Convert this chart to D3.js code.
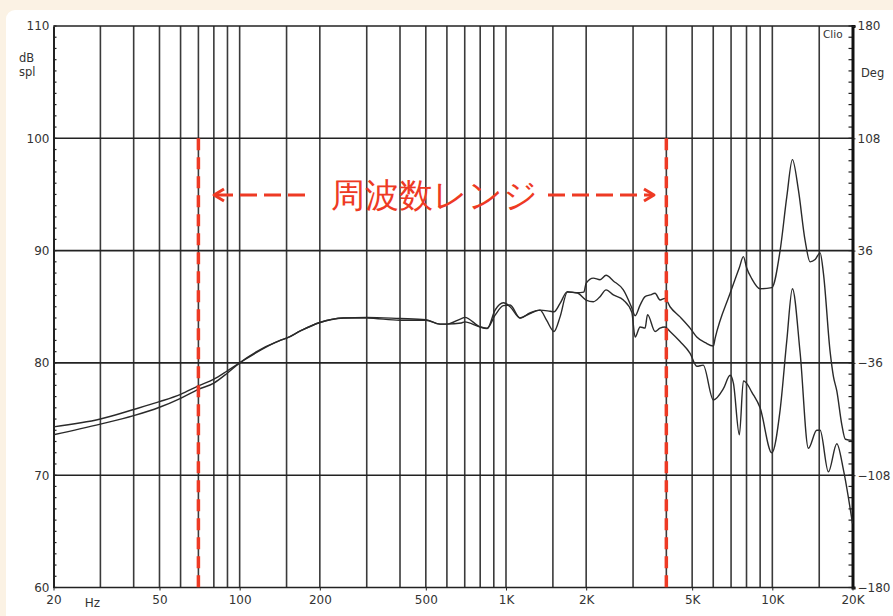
<!DOCTYPE html>
<html>
<head>
<meta charset="utf-8">
<script src="https://cdn.jsdelivr.net/npm/d3@7"></script>
<style>
  html, body { margin: 0; padding: 0; background: #fbf2e4; }
  svg { display: block; }
  text { font-family: "DejaVu Sans", Verdana, sans-serif; }
</style>
</head>
<body>
<svg id="chart" width="893" height="616"></svg>
<script>
// ---------- data ----------
const curveAFreq = [20,30,40,50,60,70,80,90,100,142,150,169,200,245,300,400,500,565,600,680,700,800,850,910,978,1036,1129,1231,1342,1464,1515,1596,1700,1844,1960,2000,2128,2255,2376,2530,2758,2968,3053,3188,3328,3476,3628,3788,3956,4130,4504,4912,5204,5600,6008,6100,6942,7522,7786,8000,8372,8996,9954,10696,11334,11896,12528,13274,13860,14472,15114,15552,16480,16956,17462,18232,18800,20000];
const curveADb   = [74.3,75.0,75.85,76.55,77.2,77.95,78.55,79.3,80.0,82.0,82.2,82.85,83.6,84.0,84.05,83.95,83.85,83.45,83.45,83.95,84.05,83.2,83.05,84.7,85.35,85.0,84.0,84.45,84.7,84.6,84.55,85.3,86.35,86.25,86.3,87.1,87.55,87.4,87.8,87.3,86.5,84.9,84.2,85.15,85.9,86.05,86.2,85.6,85.75,85.0,84.1,83.1,82.3,81.8,81.5,82.2,86.2,88.5,89.46,88.5,87.5,86.6,86.7,90.0,94.8,98.1,95.4,90.9,89.0,89.2,89.8,88.0,81.0,78.8,77.5,74.5,73.2,73.1];

const curveBFreq = [20,30,40,50,60,70,80,90,100,142,150,169,200,245,300,400,500,565,600,680,700,800,850,910,978,1036,1129,1231,1342,1420,1515,1596,1700,1844,1998,2128,2255,2376,2530,2758,2968,3053,3188,3328,3400,3628,3788,3956,4130,4504,4912,5204,5500,6008,6550,6942,7142,7522,7786,8000,8372,8996,9954,10696,11334,11896,12716,13660,14688,15114,16238,17462,18486,20000];
const curveBDb   = [73.6,74.55,75.3,76.05,76.85,77.65,78.2,79.1,80.0,82.0,82.2,82.85,83.6,84.0,84.0,83.8,83.8,83.45,83.45,83.55,83.65,83.2,83.1,84.25,85.1,85.15,84.0,84.4,84.7,83.8,82.8,84.1,86.3,86.25,85.6,85.45,85.9,86.5,86.05,85.6,84.5,82.3,83.2,83.1,84.3,82.8,83.1,83.2,82.8,81.9,80.85,79.7,79.8,76.7,77.7,78.9,78.2,73.6,78.4,78.2,77.4,76.0,72.0,75.8,82.0,86.6,80.9,72.4,74.0,74.0,70.3,72.8,70.5,65.7];

const freqGrid = [30,40,50,60,70,80,90,100,150,200,300,400,500,600,700,800,900,1000,1500,2000,3000,4000,5000,6000,7000,8000,9000,10000,15000];
const dbGrid = [70,80,90,100];
const xTickValues = [20,50,100,200,500,1000,2000,5000,10000,20000];
const xTickLabels = ["20","50","100","200","500","1K","2K","5K","10K","20K"];
const yTickValues = [60,70,80,90,100,110];
const degTickValues = [180,108,36,-36,-108,-180];
const rangeMarks = [70,4000];
const rangeLabel = "周波数レンジ";

// ---------- layout ----------
const svg = d3.select("#chart");
const L = 53.5, R = 852.5, T = 26, B = 587.5;
const red = "#ee3a24";

svg.append("rect").attr("x",6).attr("y",10).attr("width",905).attr("height",630).attr("rx",9).attr("fill","#ffffff");

const x = d3.scaleLog().domain([20,20000]).range([L,R]);
const y = d3.scaleLinear().domain([60,110]).range([B,T]);
const yDeg = d3.scaleLinear().domain([-180,180]).range([B,T]);

// grid
svg.append("g").selectAll("line").data(freqGrid).join("line")
  .attr("x1",d=>x(d)).attr("x2",d=>x(d)).attr("y1",T).attr("y2",B)
  .attr("stroke","#3a3a3a").attr("stroke-width",1.6);
svg.append("g").selectAll("line").data(dbGrid).join("line")
  .attr("x1",L).attr("x2",R).attr("y1",d=>y(d)).attr("y2",d=>y(d))
  .attr("stroke","#222").attr("stroke-width",1.6);

// frame top/bottom
svg.append("line").attr("x1",L).attr("x2",R).attr("y1",T).attr("y2",T).attr("stroke","#222").attr("stroke-width",1.6);
svg.append("line").attr("x1",L).attr("x2",R).attr("y1",B).attr("y2",B).attr("stroke","#222").attr("stroke-width",1.6);

// minor ticks along left and right axes (1 dB)
const minor = d3.range(60,111,1);
svg.append("g").selectAll("line").data(minor).join("line")
  .attr("x1",L).attr("x2",L+3).attr("y1",d=>y(d)).attr("y2",d=>y(d))
  .attr("stroke","#222").attr("stroke-width",1.2);
svg.append("g").selectAll("line").data(minor).join("line")
  .attr("x1",R-4).attr("x2",R).attr("y1",d=>y(d)).attr("y2",d=>y(d))
  .attr("stroke","#222").attr("stroke-width",1.2);

// left axis
const gl = svg.append("g").attr("transform",`translate(${L},0)`)
  .call(d3.axisLeft(y).tickValues(yTickValues).tickSize(0).tickPadding(4).tickFormat(d3.format("d")));
gl.select(".domain").attr("stroke","#222").attr("stroke-width",2);
gl.selectAll("text").attr("font-size",12).attr("fill","#333").attr("font-family","DejaVu Sans");

// right axis
const gr = svg.append("g").attr("transform",`translate(${R},0)`)
  .call(d3.axisRight(yDeg).tickValues(degTickValues).tickSize(3).tickPadding(2).tickFormat(d3.format("d")));
gr.select(".domain").attr("stroke","#111").attr("stroke-width",3);
gr.selectAll(".tick line").attr("stroke","#222");
gr.selectAll("text").attr("font-size",12).attr("fill","#333").attr("font-family","DejaVu Sans");

// bottom axis
const gb = svg.append("g").attr("transform",`translate(0,${B})`)
  .call(d3.axisBottom(x).tickValues(xTickValues).tickSize(3).tickPadding(5)
    .tickFormat((d,i)=>xTickLabels[i]));
gb.select(".domain").remove();
gb.selectAll(".tick line").attr("stroke","#222");
gb.selectAll("text").attr("font-size",12).attr("fill","#333").attr("font-family","DejaVu Sans");

svg.append("text").attr("x",x(28)).attr("y",607).attr("text-anchor","middle")
  .attr("font-size",12).attr("fill","#333").text("Hz");
svg.append("text").attr("x",19).attr("y",62).attr("font-size",11.5).attr("fill","#333").text("dB");
svg.append("text").attr("x",19).attr("y",76).attr("font-size",11.5).attr("fill","#333").text("spl");
svg.append("text").attr("x",861).attr("y",77).attr("font-size",11.5).attr("fill","#333").text("Deg");
svg.append("text").attr("x",823).attr("y",38).attr("font-size",10.5).attr("fill","#333").text("Clio");

// curves
const line = d3.line().x(d=>x(d[0])).y(d=>y(d[1])).curve(d3.curveMonotoneX);
const dataA = curveAFreq.map((f,i)=>[f,curveADb[i]]);
const dataB = curveBFreq.map((f,i)=>[f,curveBDb[i]]);
[dataA,dataB].forEach(d=>{
  svg.append("path").datum(d).attr("d",line).attr("fill","none")
    .attr("stroke","#2a2a2a").attr("stroke-width",1.4).attr("stroke-linejoin","round");
});

// red range markers
svg.append("g").selectAll("line").data(rangeMarks).join("line")
  .attr("x1",d=>x(d)).attr("x2",d=>x(d)).attr("y1",y(100)).attr("y2",B)
  .attr("stroke",red).attr("stroke-width",3.5).attr("stroke-dasharray","12,7");

const ay = 195;
const gA = svg.append("g").attr("stroke",red).attr("stroke-width",3).attr("fill","none");
gA.append("line").attr("x1",216).attr("x2",310).attr("y1",ay).attr("y2",ay).attr("stroke-dasharray","17,7");
gA.append("polyline").attr("points",`${224},${ay-6} ${214},${ay} ${224},${ay+6}`).attr("stroke-linejoin","round");
gA.append("line").attr("x1",548).attr("x2",652).attr("y1",ay).attr("y2",ay).attr("stroke-dasharray","17,7");
gA.append("polyline").attr("points",`${644},${ay-6} ${654},${ay} ${644},${ay+6}`).attr("stroke-linejoin","round");

svg.append("text").attr("x",434).attr("y",ay+12).attr("text-anchor","middle")
  .attr("font-family","'Noto Sans CJK JP', sans-serif").attr("font-size",34).attr("font-weight",500)
  .attr("fill",red).text(rangeLabel);
</script>
</body>
</html>
